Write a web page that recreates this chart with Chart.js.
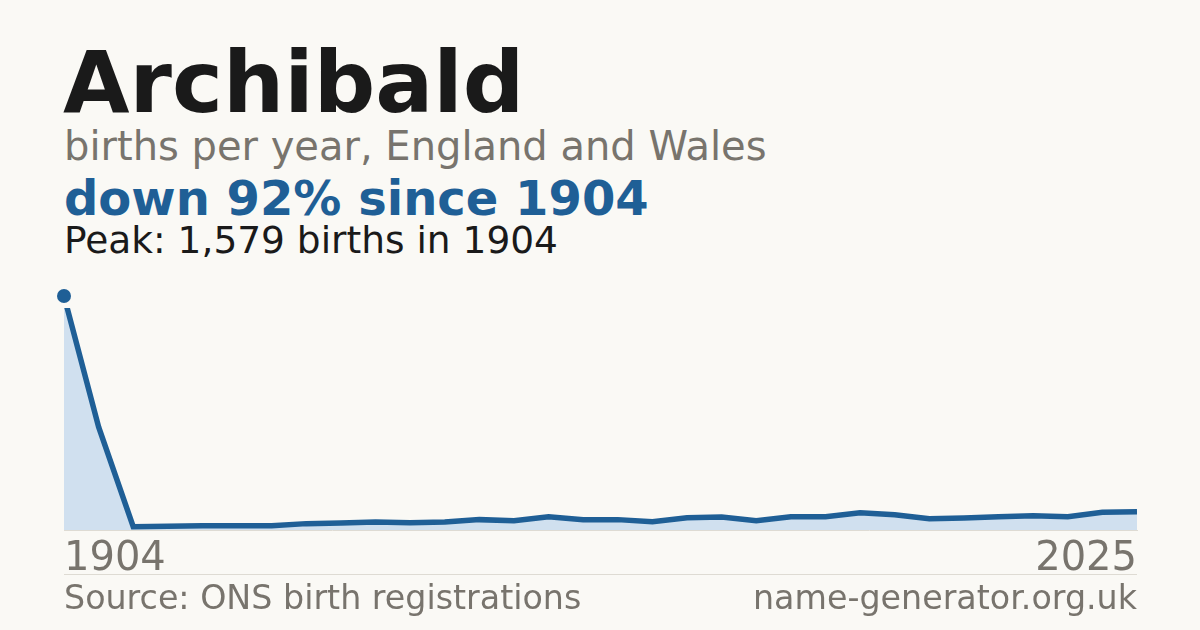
<!DOCTYPE html>
<html>
<head>
<meta charset="utf-8">
<script src="https://cdn.jsdelivr.net/npm/chart.js@4.4.1/dist/chart.umd.min.js"></script>
<style>
  html, body { margin: 0; padding: 0; }
  body {
    width: 1200px; height: 630px; overflow: hidden; position: relative;
    background: #faf9f5; font-family: "DejaVu Sans", sans-serif;
  }
  .t { position: absolute; white-space: nowrap; }
  #title { left: 63px; top: 39px; font-size: 86px; line-height: 86px; font-weight: bold; color: #1a1a1a; }
  #sub { left: 64px; top: 126px; font-size: 40px; line-height: 40px; color: #78746d; }
  #change { left: 64px; top: 174px; font-size: 48px; line-height: 48px; font-weight: bold; color: #1f5f96; }
  #peak { left: 64px; top: 222px; font-size: 37.5px; line-height: 37.5px; color: #1a1a1a; }
  #firstYear { left: 64px; top: 536px; font-size: 40px; line-height: 40px; color: #78746d; }
  #lastYear { right: 63px; top: 536px; font-size: 40px; line-height: 40px; color: #78746d; }
  #rule { position: absolute; left: 64px; top: 574px; width: 1073px; height: 1px; background: #dedbd3; }
  #source { left: 64px; top: 581px; font-size: 33.3px; line-height: 33.3px; color: #78746d; }
  #site { right: 63px; top: 581px; font-size: 33.3px; line-height: 33.3px; color: #78746d; }
  #wrap { position: absolute; left: 40px; top: 270px; width: 1120px; height: 280px; }
</style>
</head>
<body>
<div class="t" id="title">Archibald</div>
<div class="t" id="sub">births per year, England and Wales</div>
<div class="t" id="change">down 92% since 1904</div>
<div class="t" id="peak">Peak: 1,579 births in 1904</div>
<div id="wrap"><canvas id="chart"></canvas></div>
<div class="t" id="firstYear">1904</div>
<div class="t" id="lastYear">2025</div>
<div id="rule"></div>
<div class="t" id="source">Source: ONS birth registrations</div>
<div class="t" id="site">name-generator.org.uk</div>

<script>
// Data
const years = ['1904', '1994',
  '1996', '1997', '1998', '1999', '2000', '2001', '2002', '2003', '2004', '2005',
  '2006', '2007', '2008', '2009', '2010', '2011', '2012', '2013', '2014', '2015',
  '2016', '2017', '2018', '2019', '2020', '2021', '2022', '2023', '2024', '2025'];
const births = [1579, 695,
  22, 25, 29, 29, 29, 43, 47, 54, 49, 54,
  70, 63, 90, 70, 70, 56, 83, 88, 63, 90,
  90, 117, 103, 76, 81, 90, 96, 90, 119, 123];
const peakIndex = 0;

// only the peak gets a marker
const peakMarker = births.map((v, i) => i === peakIndex ? v : null);

const blue = '#1f5f96';

new Chart(document.getElementById('chart').getContext('2d'), {
  type: 'line',
  data: {
    labels: years,
    datasets: [
      {
        data: peakMarker,
        pointRadius: 7,
        pointBackgroundColor: blue,
        pointBorderWidth: 0,
        showLine: false,
        clip: false
      },
      {
        data: births,
        borderColor: blue,
        borderWidth: 5.5,
        backgroundColor: '#d0e0ef',
        fill: 'origin',
        tension: 0,
        pointRadius: 0,
        // line is cut a little below the peak marker
        clip: { left: 0, top: -12, right: 0, bottom: 4 }
      }
    ]
  },
  options: {
    responsive: true,
    maintainAspectRatio: false,
    animation: false,
    layout: { padding: { left: 24, right: 23, top: 26, bottom: 20 } },
    plugins: { legend: { display: false }, tooltip: { enabled: false } },
    scales: {
      x: {
        display: true,
        offset: false,
        grid: { display: false, drawTicks: false },
        ticks: { display: false },
        border: { display: true, color: '#dedbd3', width: 1 }
      },
      y: { display: false, min: 0, max: births[peakIndex] }
    }
  }
});
</script>
</body>
</html>
